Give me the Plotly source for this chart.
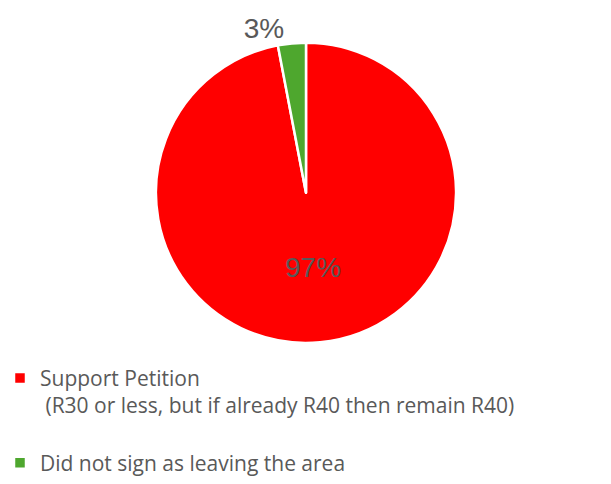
import plotly.graph_objects as go

labels = ["Support Petition<br> (R30 or less, but if already R40 then remain R40)<br> ",
          "Did not sign as leaving the area"]
values = [97, 3]
colors = ["#FF0000", "#4EA72E"]

fig = go.Figure(go.Pie(
    labels=labels,
    values=values,
    sort=False,
    direction="clockwise",
    rotation=0,
    marker=dict(colors=colors, line=dict(color="white", width=2.5)),
    textinfo="percent",
    textposition=["inside", "outside"],
    insidetextorientation="horizontal",
    textfont=dict(family="Liberation Sans, Arial", size=28, color="#595959"),
    outsidetextfont=dict(family="Liberation Sans, Arial", size=28, color="#595959"),
    insidetextfont=dict(family="Liberation Sans, Arial", size=28, color="#595959"),
    domain=dict(x=[155/611, 457/611], y=[1-345/484, 1-43/484]),
    hoverinfo="label+percent",
))

fig.update_layout(
    width=611, height=484,
    margin=dict(l=0, r=0, t=0, b=0),
    paper_bgcolor="white",
    plot_bgcolor="white",
    showlegend=True,
    legend=dict(
        x=0, y=1-360/484, xanchor="left", yanchor="top",
        orientation="v", valign="top",
        font=dict(family="Open Sans, sans-serif", size=21, color="#595959"),
        bgcolor="rgba(0,0,0,0)",
    ),
)

fig.write_html("out.html")
